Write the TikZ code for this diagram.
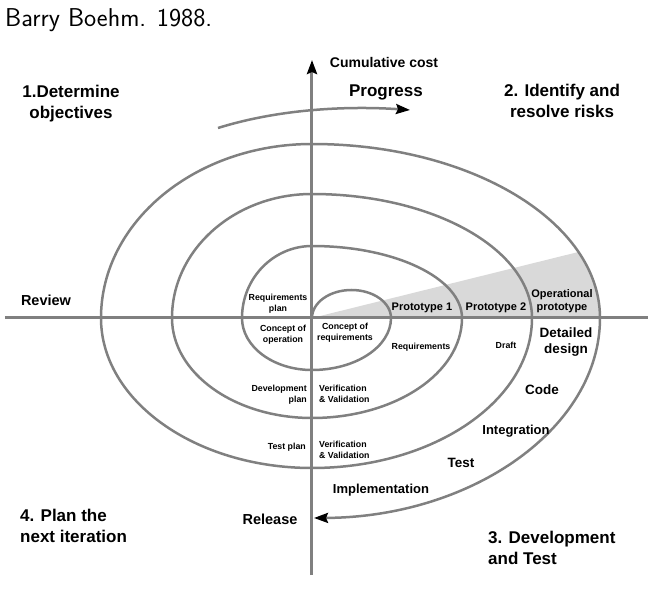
\documentclass[tikz,border=0pt]{standalone}
\usepackage{fontspec}
\setmainfont{Liberation Sans}
\usetikzlibrary{arrows.meta}
\definecolor{linegray}{HTML}{808080}
\definecolor{wedgegray}{HTML}{D9D9D9}
\begin{document}
\begin{tikzpicture}[x=1pt,y=1pt,
  spiralline/.style={draw=linegray,line width=2.5pt},
  axisline/.style={draw=linegray,line width=3pt},
  tip/.style={-{Stealth[length=14pt,width=10pt,inset=2pt,black]}},
  lab/.style={font=\bfseries\fontsize{#1}{#1}\selectfont,inner sep=0pt,align=center},
  lab/.default=13,
  small/.style={font=\bfseries\fontsize{8.8}{11}\selectfont,inner sep=0pt}]
\useasboundingbox (-312,-271) rectangle (339,318);
% shaded wedge
\fill[wedgegray] (0,0) -- (22.3:288 and 174) arc[start angle=22.3,end angle=0,x radius=288,y radius=174] -- cycle;
% axes
\coordinate (O) at (0,0);
\coordinate (axb) at (0,-257);
\coordinate (axt) at (0,258);
\coordinate (axl) at (-307,0);
\coordinate (axr) at (336,0);
\draw[axisline] (axl) -- (axr);
\draw[axisline,tip] (axb) -- (axt);
% spiral
\draw[spiralline,tip] (O)
  arc[start angle=180,end angle=0,x radius=39.5,y radius=28]
  arc[start angle=0,end angle=-90,x radius=79,y radius=52]
  arc[start angle=-90,end angle=-180,x radius=70,y radius=52]
  arc[start angle=180,end angle=90,x radius=70,y radius=72]
  arc[start angle=90,end angle=0,x radius=150,y radius=72]
  arc[start angle=0,end angle=-90,x radius=150,y radius=100]
  arc[start angle=-90,end angle=-180,x radius=140,y radius=100]
  arc[start angle=180,end angle=90,x radius=140,y radius=124]
  arc[start angle=90,end angle=0,x radius=220,y radius=124]
  arc[start angle=0,end angle=-90,x radius=220,y radius=150]
  arc[start angle=-90,end angle=-180,x radius=211,y radius=150]
  arc[start angle=180,end angle=90,x radius=211,y radius=174]
  arc[start angle=90,end angle=0,x radius=288,y radius=174]
  arc[start angle=0,end angle=-89.6,x radius=288,y radius=200];
% progress arrow
\coordinate (ps) at (-94,190);
\coordinate (pe) at (98,208);
\draw[spiralline,tip] (ps) .. controls (-30,210) and (40,212) .. (pe);
% title
\node[anchor=base west,inner sep=0pt,font=\sffamily\fontsize{25.8}{27}\selectfont] (title) at (-307,291) {Barry Boehm. 1988.};
% quadrant labels
\node[lab=14] (cost) at (72,256) {Cumulative cost};
\node[lab=17] (prog) at (74,225.5) {Progress};
\node[lab=17] (q1) at (-241,214) {1.Determine\\[4pt]objectives};
\node[lab=17] (q2) at (250,217) {2. Identify and\\[4pt]resolve risks};
\node[lab=17,anchor=west,align=left] (q4) at (-292,-208) {4. Plan the\\[4pt]next iteration};
\node[lab=17,anchor=west,align=left] (q3) at (176,-229.5) {3. Development\\[4pt]and Test};
% axis labels
\node[lab=14.5] (review) at (-266,18) {Review};
\node[lab=14.5] (release) at (-42,-201) {Release};
% phase labels
\node[lab=13] (impl) at (69,-172) {Implementation};
\node[lab=13.5] (test) at (149,-145) {Test};
\node[lab=13] (integ) at (204,-113) {Integration};
\node[lab=13.5] (code) at (230,-72) {Code};
\node[lab=13.5] (ddes) at (254,-24) {Detailed\\[3pt]design};
\node[lab=11] (oproto) at (250,16.5) {Operational\\[2pt]prototype};
\node[lab=11] (p2) at (184,10) {Prototype 2};
\node[lab=11] (p1) at (110,10) {Prototype 1};
\node[small] (draft) at (194,-27) {Draft};
\node[small] (req) at (109,-29) {Requirements};
\node[small,align=center] (creq) at (33,-15) {Concept of\\requirements};
\node[small,align=center] (rplan) at (-34,14.5) {Requirements\\plan};
\node[small,align=center] (cop) at (-29,-16.5) {Concept of\\operation};
\node[small,align=right,anchor=east] (dplan) at (-5,-76.5) {Development\\plan};
\node[small,align=left,anchor=west] (vv1) at (7,-76) {Verification\\\& Validation};
\node[small,anchor=east] (tplan) at (-6,-129) {Test plan};
\node[small,align=left,anchor=west] (vv2) at (7,-132) {Verification\\\& Validation};
\end{tikzpicture}
\end{document}
